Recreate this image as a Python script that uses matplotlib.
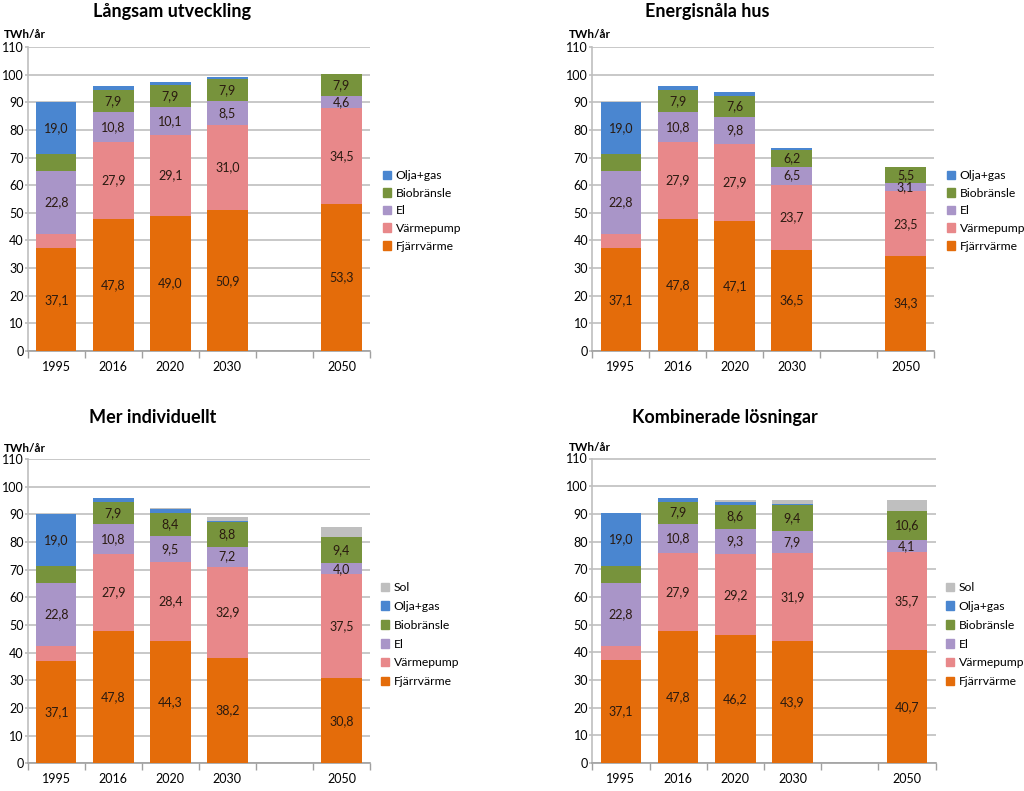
import numpy as np
import matplotlib
matplotlib.use("Agg")
from matplotlib import pyplot as plt
from matplotlib.patches import Patch

plt.rcParams['font.family'] = ['Lato', 'DejaVu Sans']

years = ['1995', '2016', '2020', '2030', '', '2050']
bar_years = ['1995', '2016', '2020', '2030', '2050']

series = ['Fjärrvärme', 'Värmepump', 'El', 'Biobränsle', 'Olja+gas', 'Sol']
colors = {'Fjärrvärme': '#E46C0A', 'Värmepump': '#E8888A', 'El': '#A995C8',
          'Biobränsle': '#77933C', 'Olja+gas': '#4A86D0', 'Sol': '#BFBFBF'}

# values per year: 1995, 2016, 2020, 2030, 2050
langsam = {
    'Fjärrvärme': [37.1, 47.8, 49.0, 50.9, 53.3],
    'Värmepump':  [5.3, 27.9, 29.1, 31.0, 34.5],
    'El':         [22.8, 10.8, 10.1, 8.5, 4.6],
    'Biobränsle': [6.0, 7.9, 7.9, 7.9, 7.9],
    'Olja+gas':   [19.0, 1.5, 1.2, 0.7, 0.0],
}
energisnala = {
    'Fjärrvärme': [37.1, 47.8, 47.1, 36.5, 34.3],
    'Värmepump':  [5.3, 27.9, 27.9, 23.7, 23.5],
    'El':         [22.8, 10.8, 9.8, 6.5, 3.1],
    'Biobränsle': [6.0, 7.9, 7.6, 6.2, 5.5],
    'Olja+gas':   [19.0, 1.5, 1.3, 0.6, 0.0],
}
individuellt = {
    'Fjärrvärme': [37.1, 47.8, 44.3, 38.2, 30.8],
    'Värmepump':  [5.3, 27.9, 28.4, 32.9, 37.5],
    'El':         [22.8, 10.8, 9.5, 7.2, 4.0],
    'Biobränsle': [6.0, 7.9, 8.4, 8.8, 9.4],
    'Olja+gas':   [19.0, 1.5, 1.3, 0.6, 0.0],
    'Sol':        [0.0, 0.0, 0.3, 1.2, 3.6],
}
kombinerade = {
    'Fjärrvärme': [37.1, 47.8, 46.2, 43.9, 40.7],
    'Värmepump':  [5.3, 27.9, 29.2, 31.9, 35.7],
    'El':         [22.8, 10.8, 9.3, 7.9, 4.1],
    'Biobränsle': [6.0, 7.9, 8.6, 9.4, 10.6],
    'Olja+gas':   [19.0, 1.5, 1.0, 0.5, 0.0],
    'Sol':        [0.0, 0.0, 0.6, 1.4, 3.9],
}

panels = [
    ('Långsam utveckling', langsam),
    ('Energisnåla hus', energisnala),
    ('Mer individuellt', individuellt),
    ('Kombinerade lösningar', kombinerade),
]

# segments without a value label
no_label = {('1995', 'Värmepump'), ('1995', 'Biobränsle')}

# layout in pixels: axes left, right, top, bottom; title x, title y; unit x, unit y;
# legend x, legend top y, legend spacing
layout = [
    (27.7, 370, 47, 351, 172, 12, 4, 35, 383, 170, 0.55),
    (592.3, 934, 47, 351, 707, 12, 569, 35, 947, 170, 0.55),
    (27.7, 370, 459, 763.3, 153, 418, 4, 448, 381, 582, 0.65),
    (592.3, 935.5, 458.5, 763, 725, 418, 569, 447, 946, 582, 0.65),
]

W, H = 1024, 791
fig = plt.figure(figsize=(W / 100, H / 100), dpi=100)

xpos = {y: i for i, y in enumerate(years)}
grid_c = '#BFBFBF'

for (title, data), (l, r, t, b, tx, ty, ux, uy, lx, ly, lsp) in zip(panels, layout):
    ax = fig.add_axes([l / W, 1 - b / H, (r - l) / W, (b - t) / H])
    x = np.array([xpos[y] for y in bar_years])
    bottom = np.zeros(len(bar_years))
    handles = []
    for s in series:
        if s not in data:
            continue
        vals = np.array(data[s])
        ax.bar(x, vals, width=0.71, bottom=bottom, color=colors[s], zorder=3)
        for xi, yr, v, b0 in zip(x, bar_years, vals, bottom):
            if v < 3 or s == 'Sol' or (yr, s) in no_label:
                continue
            if s == 'Olja+gas' and v < 10:
                continue
            ax.text(xi, b0 + v / 2, f'{v:.1f}'.replace('.', ','), ha='center', va='center',
                    fontsize=9, color='#2a1a10', zorder=4)
        bottom += vals
        handles.append(Patch(color=colors[s], label=s))

    ax.set_xlim(-0.5, 5.5)
    ax.set_ylim(0, 110)
    ax.set_yticks(np.arange(0, 111, 10))
    ax.set_xticks(np.arange(-0.5, 6, 1))
    ax.set_xticklabels([])
    ax.set_xticks(np.arange(6), labels=years, minor=True)
    ax.tick_params(axis='x', which='major', length=5, color='#A0A0A0', width=1)
    ax.tick_params(axis='x', which='minor', length=0, labelsize=9, pad=7)
    ax.tick_params(axis='y', length=2, color=grid_c, width=1.2, labelsize=9, pad=1)
    ax.grid(axis='y', color=grid_c, linewidth=1.2, zorder=0)
    for sp in ['top', 'right']:
        ax.spines[sp].set_visible(False)
    ax.spines['left'].set_color(grid_c)
    ax.spines['left'].set_linewidth(1.2)
    ax.spines['bottom'].set_color('#A0A0A0')
    ax.spines['bottom'].set_linewidth(1.2)
    ax.set_axisbelow(True)

    fig.text(tx / W, 1 - ty / H, title, ha='center', va='center', fontsize=13, fontweight='bold')
    fig.text(ux / W, 1 - uy / H, 'TWh/år', ha='left', va='center', fontsize=8.5, fontweight='bold')

    fig.legend(handles=handles[::-1], loc='upper left', bbox_to_anchor=(lx / W, 1 - ly / H),
               frameon=False, fontsize=8.7, handlelength=0.7, handleheight=0.7,
               handletextpad=0.35, labelspacing=lsp, borderaxespad=0, borderpad=0)

fig.savefig('out.png', dpi=100)
